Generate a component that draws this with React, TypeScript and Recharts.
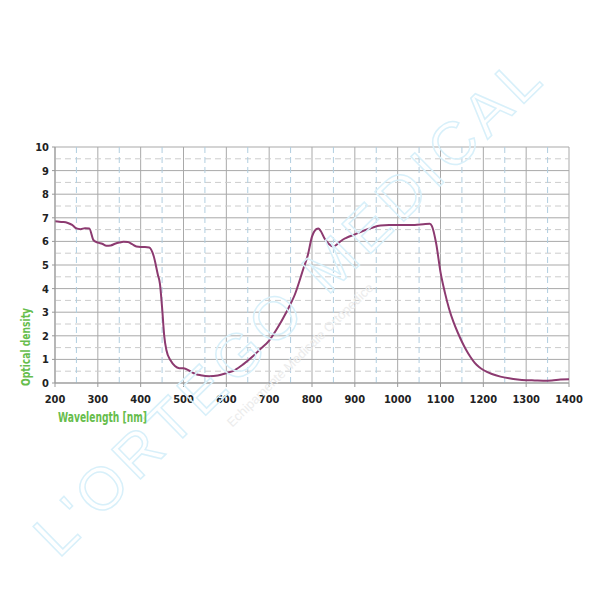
import React from "react";
import {
  CartesianGrid,
  Line,
  LineChart,
  ReferenceLine,
  XAxis,
  YAxis,
} from "recharts";

// wavelength (nm) and optical density
const wavelength = [
  200, 210, 220, 230, 240, 250, 260, 270, 280, 290, 300, 310, 320, 330, 340,
  350, 360, 370, 380, 390, 400, 410, 420, 430, 440, 445, 450, 455, 460, 470,
  480, 490, 500, 510, 520, 530, 540, 560, 580, 600, 620, 640, 660, 680, 700,
  720, 740, 760, 780, 790, 800, 810, 815, 820, 830, 840, 850, 860, 870, 880,
  900, 920, 940, 960, 980, 1000, 1020, 1040, 1060, 1075, 1080, 1090, 1100,
  1110, 1120, 1130, 1140, 1150, 1160, 1170, 1180, 1190, 1200, 1220, 1240,
  1260, 1280, 1300, 1320, 1340, 1360, 1380, 1400,
];
const density = [
  6.85, 6.83, 6.82, 6.78, 6.7, 6.55, 6.52, 6.56, 6.55, 6.05, 5.95, 5.9, 5.82,
  5.83, 5.9, 5.95, 5.98, 5.97, 5.88, 5.78, 5.76, 5.76, 5.74, 5.4, 4.6, 4.2,
  3.2, 2.0, 1.4, 0.95, 0.72, 0.63, 0.62, 0.56, 0.45, 0.37, 0.33, 0.29, 0.32,
  0.42, 0.55, 0.8, 1.1, 1.45, 1.8, 2.35, 3.0, 3.75, 4.85, 5.4, 6.2, 6.52, 6.55,
  6.45, 6.1, 5.88, 5.78, 5.9, 6.05, 6.15, 6.3, 6.45, 6.58, 6.67, 6.69, 6.69,
  6.7, 6.7, 6.73, 6.75, 6.65, 5.9, 4.7, 3.85, 3.15, 2.6, 2.15, 1.75, 1.4, 1.1,
  0.85, 0.68, 0.55, 0.38, 0.27, 0.2, 0.15, 0.12, 0.11, 0.1, 0.11, 0.15, 0.16,
];

const xTicks = [200, 300, 400, 500, 600, 700, 800, 900, 1000, 1100, 1200, 1300, 1400];
const yTicks = [0, 1, 2, 3, 4, 5, 6, 7, 8, 9, 10];
const xHalf = [250, 350, 450, 550, 650, 750, 850, 950, 1050, 1150, 1250, 1350];
const yHalf = [0.5, 1.5, 2.5, 3.5, 4.5, 5.5, 6.5, 7.5, 8.5, 9.5];

const data = wavelength.map((nm, i) => ({ nm, od: density[i] }));

const narrow = "'DejaVu Sans Condensed', 'Liberation Sans Narrow', 'Arial Narrow', sans-serif";

const tickFont = {
  fontFamily: narrow,
  fontSize: 11,
  fontWeight: 700,
  fill: "#222",
};

export default function App() {
  return (
    <div style={{ position: "absolute", top: 0, left: 0, width: 600, height: 600, background: "#fff" }}>
      <LineChart
        width={600}
        height={420}
        data={data}
        margin={{ top: 147, right: 31, bottom: 0, left: 0 }}
      >
        <CartesianGrid stroke="#a9a9a9" strokeWidth={1} />
        {yHalf.map((v) => (
          <ReferenceLine key={"y" + v} y={v} stroke="#cccccc" strokeDasharray="6 4" />
        ))}
        {xHalf.map((v) => (
          <ReferenceLine key={"x" + v} x={v} stroke="#b0cee0" strokeDasharray="6 4" />
        ))}
        <XAxis
          dataKey="nm"
          type="number"
          domain={[200, 1400]}
          ticks={xTicks}
          height={37}
          tickSize={4}
          tickMargin={8}
          stroke="#999"
          tick={tickFont}
        />
        <YAxis
          type="number"
          domain={[0, 10]}
          ticks={yTicks}
          width={55}
          tickSize={3}
          tickMargin={3}
          stroke="#999"
          tick={tickFont}
        />
        <Line
          type="monotone"
          dataKey="od"
          stroke="#8c3a70"
          strokeWidth={2}
          dot={false}
          isAnimationActive={false}
        />
      </LineChart>
      <svg
        width={600}
        height={600}
        style={{ position: "absolute", top: 0, left: 0, pointerEvents: "none" }}
      >
        <text
          x={287}
          y={307}
          textAnchor="middle"
          dominantBaseline="central"
          transform="rotate(-44.4 287 307)"
          textLength={680}
          lengthAdjust="spacing"
          fill="none"
          stroke="#d8f0fa"
          strokeWidth={1.5}
          style={{ fontFamily: "'Liberation Sans', sans-serif", fontSize: 60 }}
        >
          L'ORTEGO MEDICAL
        </text>
        <text
          x={300}
          y={355}
          textAnchor="middle"
          dominantBaseline="central"
          transform="rotate(-44.4 300 355)"
          fill="#ececec"
          style={{ fontFamily: "'Liberation Sans', sans-serif", fontSize: 13 }}
        >
          Echipamente Medicale Ortopedice
        </text>
        <text
          x={25}
          y={347}
          textAnchor="middle"
          dominantBaseline="central"
          transform="rotate(-90 25 347)"
          textLength={78}
          lengthAdjust="spacingAndGlyphs"
          fill="#66bd4c"
          style={{ fontFamily: narrow, fontSize: 13, fontWeight: 700 }}
        >
          Optical density
        </text>
        <text
          x={58}
          y={417}
          dominantBaseline="central"
          textLength={89}
          lengthAdjust="spacingAndGlyphs"
          fill="#66bd4c"
          style={{ fontFamily: narrow, fontSize: 13.5, fontWeight: 700 }}
        >
          Wavelength [nm]
        </text>
      </svg>
    </div>
  );
}
